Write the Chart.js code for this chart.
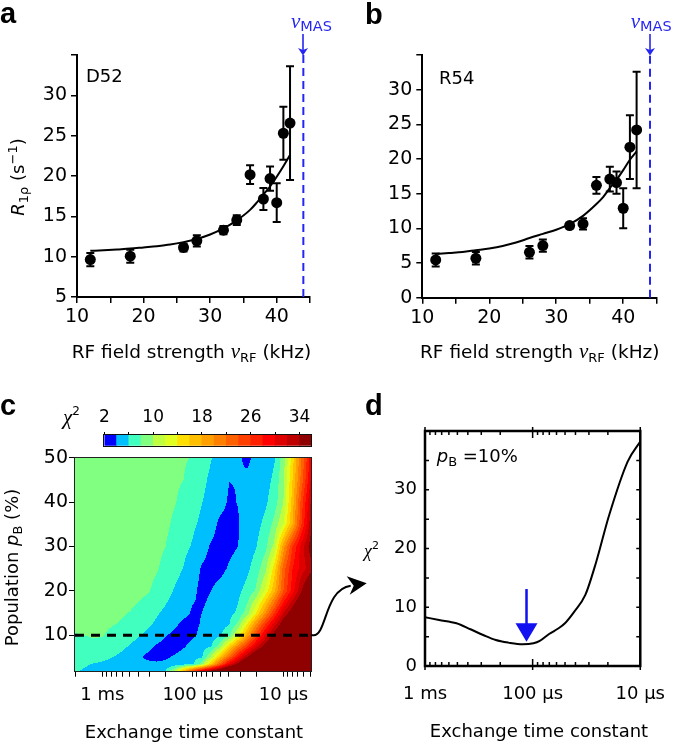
<!DOCTYPE html>
<html><head><meta charset="utf-8">
<script src="https://cdn.jsdelivr.net/npm/chart.js"></script>
<style>
html,body{margin:0;padding:0;background:#fff;}
#wrap{position:relative;width:675px;height:743px;overflow:hidden;background:#fff;}
#wrap canvas{position:absolute;}
#labels{position:absolute;left:0;top:0;pointer-events:none;}
</style></head><body>
<div id="wrap">
<canvas id="ca" width="337" height="372" style="left:0;top:0;width:337px;height:372px"></canvas>
<canvas id="cb" width="335" height="372" style="left:340px;top:0;width:335px;height:372px"></canvas>
<canvas id="cc" width="337" height="363" style="left:0;top:380px;width:337px;height:363px"></canvas>
<canvas id="cbar" width="225" height="55" style="left:95px;top:395px;width:225px;height:55px"></canvas>
<canvas id="cd" width="370" height="363" style="left:305px;top:380px;width:370px;height:363px"></canvas>
<svg id="labels" width="675" height="743" font-family="DejaVu Sans" fill="#000">
  <g font-family="Liberation Sans, Arial" font-weight="bold" font-size="29">
    <text x="0" y="23">a</text><text x="365" y="24">b</text>
    <text x="0" y="415">c</text><text x="365" y="415">d</text>
  </g>
  <text x="86" y="82" font-size="18">D52</text>
  <text x="439" y="84" font-size="18">R54</text>
  <text x="291" y="27.5" fill="#2626F2"><tspan font-family="Liberation Serif" font-style="italic" font-size="21">ν</tspan><tspan font-size="14.5" dy="3">MAS</tspan></text>
  <text x="630.7" y="27.5" fill="#2626F2"><tspan font-family="Liberation Serif" font-style="italic" font-size="21">ν</tspan><tspan font-size="14.5" dy="3">MAS</tspan></text>
  <text x="71.7" y="358" font-size="18.5">RF field strength <tspan font-family="Liberation Serif" font-style="italic" font-size="21">ν</tspan><tspan font-size="13" dy="4">RF</tspan><tspan dy="-4"> (kHz)</tspan></text>
  <text x="420" y="358" font-size="18.5">RF field strength <tspan font-family="Liberation Serif" font-style="italic" font-size="21">ν</tspan><tspan font-size="13" dy="4">RF</tspan><tspan dy="-4"> (kHz)</tspan></text>
  <text transform="translate(23.5,177) rotate(-90)" text-anchor="middle" font-size="18"><tspan font-style="italic">R</tspan><tspan font-size="13" dy="4">1ρ</tspan><tspan dy="-4"> (s</tspan><tspan font-size="13" dy="-7">−1</tspan><tspan dy="7">)</tspan></text>
  <text transform="translate(18.3,567.5) rotate(-90)" text-anchor="middle" font-size="18">Population <tspan font-style="italic">p</tspan><tspan font-size="13" dy="4">B</tspan><tspan dy="-4"> (%)</tspan></text>
  <text x="194" y="738" text-anchor="middle" font-size="18">Exchange time constant</text>
  <text x="539" y="736.5" text-anchor="middle" font-size="18">Exchange time constant</text>
  <text x="63" y="424"><tspan font-family="Liberation Serif" font-style="italic" font-size="21">χ</tspan><tspan font-size="12" dy="-9">2</tspan></text>
  <text x="364" y="557"><tspan font-family="Liberation Serif" font-style="italic" font-size="18">χ</tspan><tspan font-size="11" dy="-8">2</tspan></text>
  <text x="436.7" y="461.7" font-size="18"><tspan font-style="italic">p</tspan><tspan font-size="13" dy="4">B</tspan><tspan dy="-4"> =10%</tspan></text>
</svg>
</div>
<script>
// ---------------- data: panels a & b ----------------
const rfPointsKHz = [12, 18, 26, 28, 32, 34, 36, 38, 39, 40, 41, 42];
const r1rhoD52   = [9.64, 10.06, 11.14, 11.97, 13.29, 14.54, 20.17, 17.15, 19.68, 16.69, 25.3, 26.56];
const errD52     = [0.83, 0.8, 0.5, 0.7, 0.5, 0.6, 1.16, 1.35, 1.5, 2.4, 3.3, 7.05];
const r1rhoR54   = [5.44, 5.68, 6.55, 7.51, 10.4, 10.64, 16.2, 17.1, 16.6, 12.9, 21.7, 24.2];
const errR54     = [0.95, 0.9, 0.9, 0.9, 0.4, 0.8, 1.2, 1.8, 1.6, 2.9, 4.6, 8.4];
const fitKHz     = [12, 14, 16, 18, 20, 22, 24, 26, 28, 30, 32, 34, 36, 37, 38, 39, 40, 41, 42];
const fitD52     = [10.72, 10.8, 10.9, 11.0, 11.15, 11.3, 11.5, 11.8, 12.2, 12.75, 13.5, 14.5, 15.8, 16.7, 17.7, 18.7, 19.9, 21.2, 22.6];
const fitR54     = [6.3, 6.45, 6.6, 6.85, 7.1, 7.45, 7.95, 8.6, 9.2, 9.8, 10.6, 11.8, 13.5, 14.5, 15.8, 17.0, 18.4, 19.9, 21.1];
const masKHz = 44;

// ---------------- data: panel c (chi^2 map) ----------------
const tauGridUs = [2000, 1585, 1259, 1000, 794, 631, 501, 398, 316, 251, 200, 158, 126, 100, 79.4, 63.1, 50.1, 39.8, 31.6, 25.1, 20, 15.8, 12.6, 10, 7.94, 6.31, 5.01];
const pBGrid = [2, 3.5, 5, 7.5, 10, 12.5, 15, 20, 25, 30, 35, 40, 45, 50];
const chi2Map = [
  [6.1,5.9,5.7,5.5,5.4,5.3,5.2,5.1,5.1,5.3,6.0,10,17,24,30,34,38,42,46,50,54,57,60,63,66,69,72],
  [6.3,6.15,5.95,5.8,5.6,5.4,5.1,4.8,4.5,4.4,4.5,4.8,5.2,5.7,9,16,23,30,35,40,44,48,51,54,57,60,63],
  [6.8,6.7,6.5,6.3,6.05,5.6,5.0,4.3,3.6,3.3,3.7,4.3,4.9,5.4,5.8,10.5,17,23,29,34.5,39,43,46,49,52,55,58],
  [7.4,7.5,7.6,7.5,7.2,6.5,5.9,5.2,4.5,3.8,3.3,3.2,3.8,4.6,5.2,5.8,9,15,21,26,31,35.5,39,42,45,48,51],
  [7.8,8.0,8.15,8.1,7.7,7.3,6.8,6.2,5.6,4.9,4.1,3.6,3.4,3.7,4.4,5.0,5.7,7.5,12.5,18.5,25,30.5,35.5,39,42,45,48],
  [8.9,8.7,8.5,8.3,8.1,7.9,7.5,6.9,6.3,5.7,5.0,4.3,3.6,3.7,4.1,4.7,5.3,5.9,8.5,14,20,26,31,36,40,44,48],
  [9.2,9.0,8.8,8.6,8.4,8.2,7.95,7.4,6.8,6.2,5.6,5.0,4.4,3.8,4.0,4.5,5.0,5.5,6.3,9.0,14,20,26,32,36,40,44],
  [9.9,9.85,9.75,9.6,9.4,9.2,8.95,8.6,8.2,7.5,6.7,5.8,5.0,4.3,3.6,4.0,4.6,5.1,5.6,6.6,8.3,12.5,17.5,24,29,34,38],
  [9.85,9.8,9.7,9.55,9.4,9.25,9.05,8.8,8.5,8.15,7.5,6.7,5.9,4.8,3.8,3.3,3.5,4.2,4.9,5.6,7.0,9.4,15,23,28,31,33],
  [9.8,9.75,9.6,9.5,9.4,9.3,9.1,8.9,8.7,8.4,8.0,7.3,6.5,5.8,4.8,3.8,3.4,3.5,4.0,4.9,5.9,7.5,10.5,19,26,31,35],
  [9.8,9.7,9.6,9.5,9.4,9.25,9.1,8.95,8.8,8.6,8.3,7.7,7.0,6.3,5.6,4.7,3.6,3.4,3.9,4.6,5.4,6.5,8.6,12,18,26,33],
  [9.8,9.7,9.6,9.4,9.3,9.2,9.05,8.9,8.75,8.6,8.4,8.1,7.5,6.8,6.05,5.3,4.6,3.8,4.05,4.5,5.0,5.7,7.0,10,17,25,32],
  [9.7,9.6,9.5,9.3,9.2,9.1,9.0,8.9,8.7,8.6,8.4,8.25,8.0,7.3,6.5,5.6,4.9,4.02,4.05,4.3,4.7,5.3,6.4,9.7,16,23,30],
  [9.6,9.5,9.4,9.2,9.1,9.0,8.9,8.8,8.6,8.5,8.4,8.3,8.15,7.9,7.0,6.1,5.2,4.6,4.2,3.7,4.4,5.0,5.8,9.0,15,22,29]
];
const chi2Levels = [2,4,6,8,10,12,14,16,18,20,22,24,26,28,30,32,34,36];
const levelColors = ['#0000FF','#00BFFF','#40FFBF','#80FF80','#BFFF40','#E0FF20','#FFDF00','#FFBF00','#FF9F00','#FF8000','#FF6000','#FF4000','#FF2000','#FF0000','#DF0000','#BF0000','#8F0000'];
const colorbarTicks = [2,6,10,14,18,22,26,30,34];
const colorbarLabels = [2,10,18,26,34];
const selectedPB = 10;
const tauTicksC = [2000,1000,900,800,700,600,500,400,300,200,100,90,80,70,60,50,40,30,20,10,9,8,7,6,5];
const pBTicks = [10,20,30,40,50];
const tauLabelText = {1000:'1 ms', 100:'100 μs', 10:'10 μs'};

// ---------------- data: panel d ----------------
const tauCurveUs = [1000, 740, 510, 378, 288, 220, 168, 124, 98.2, 85.9, 70.3, 57.4, 50.1, 41.0, 32.4, 25.6, 19.6, 13.1, 10];
const chi2Curve  = [8.3, 7.84, 7.27, 6.25, 5.28, 4.43, 3.98, 3.69, 3.86, 4.26, 5.45, 6.42, 7.27, 9.26, 12.1, 17.8, 25.5, 34.8, 38.2];
const tauTicksD = [1000,900,800,700,600,500,400,300,200,100,90,80,70,60,50,40,30,20,10];
const tauMajorD = [1000,100,10];
const chi2TicksD = [0,5,10,15,20,25,30,35,40];
const bestTauUs = 114, arrowChi2Top = 13.1, arrowChi2Base = 7.27, arrowChi2Tip = 4.14;

// ---------------- helpers ----------------
const FONT = "'DejaVu Sans'";
const BLUE = '#2626F2';
Chart.defaults.font.family = FONT;
Chart.defaults.color = '#000';
const pts = (xs, ys) => xs.map((x, i) => ({x, y: ys[i]}));
const base = (padding) => ({
  animation: false, responsive: false, events: [],
  layout: {autoPadding: false, padding},
  plugins: {legend: {display: false}, tooltip: {enabled: false}}
});

const errorBars = {
  id: 'errorBars',
  afterDatasetsDraw(chart, args, o) {
    const {ctx, scales: {x, y}} = chart;
    ctx.save(); ctx.strokeStyle = '#000'; ctx.lineWidth = 2;
    o.xs.forEach((xv, i) => {
      const px = x.getPixelForValue(xv);
      const y1 = y.getPixelForValue(o.ys[i] - o.errs[i]);
      const y2 = y.getPixelForValue(o.ys[i] + o.errs[i]);
      ctx.beginPath();
      ctx.moveTo(px, y1); ctx.lineTo(px, y2);
      ctx.moveTo(px - 4, y1); ctx.lineTo(px + 4, y1);
      ctx.moveTo(px - 4, y2); ctx.lineTo(px + 4, y2);
      ctx.stroke();
    });
    ctx.restore();
  }
};
const masArrow = {
  id: 'masArrow',
  afterDraw(chart) {
    const {ctx, chartArea: a, scales: {x}} = chart;
    const px = Math.round(x.getPixelForValue(masKHz));
    ctx.save(); ctx.strokeStyle = BLUE; ctx.fillStyle = BLUE; ctx.lineWidth = 1.6;
    ctx.beginPath(); ctx.moveTo(px, a.top - 21); ctx.lineTo(px, a.top - 5); ctx.stroke();
    ctx.beginPath(); ctx.moveTo(px - 5, a.top - 7); ctx.lineTo(px, a.top + 0.5); ctx.lineTo(px + 5, a.top - 7); ctx.lineTo(px, a.top - 5); ctx.closePath(); ctx.fill();
    ctx.restore();
  }
};

function relaxChart(id, ys, errs, fit, yMin, yMax, yWidth, pad) {
  return new Chart(document.getElementById(id), {
    type: 'scatter',
    data: {datasets: [
      {type: 'line', data: pts(fitKHz, fit), borderColor: '#000', borderWidth: 2, pointRadius: 0, cubicInterpolationMode: 'monotone', fill: false},
      {data: pts(rfPointsKHz, ys), pointRadius: 5.5, pointBackgroundColor: '#000', pointBorderWidth: 0, showLine: false},
      {type: 'line', data: [{x: masKHz, y: yMin}, {x: masKHz, y: yMax}], borderColor: BLUE, borderWidth: 2, borderDash: [8, 5], pointRadius: 0, fill: false}
    ]},
    options: Object.assign(base(pad), {
      plugins: {legend: {display: false}, tooltip: {enabled: false}, errorBars: {xs: rfPointsKHz, ys, errs}},
      scales: {
        x: {type: 'linear', min: 10, max: 45, afterFit(s) { s.height = 40; },
          ticks: {stepSize: 5, autoSkip: false, maxRotation: 0, padding: 3, font: {size: 19}, color: '#000',
            callback: v => (v % 10 === 0 && v < 45) ? String(v) : ''},
          grid: {drawOnChartArea: false, tickLength: 6, color: '#000', lineWidth: 1.5},
          border: {display: true, color: '#000', width: 2}},
        y: {type: 'linear', min: yMin, max: yMax, afterFit(s) { s.width = yWidth; },
          ticks: {stepSize: 5, autoSkip: false, padding: 4, font: {size: 19}, color: '#000',
            callback: v => v === yMax ? '' : String(v)},
          grid: {drawOnChartArea: false, tickLength: 6, color: '#000', lineWidth: 1.5},
          border: {display: true, color: '#000', width: 2}}
      }
    }),
    plugins: [errorBars, masArrow]
  });
}
relaxChart('ca', r1rhoD52, errD52, fitD52, 5, 35, 77, {left: 0, right: 27, top: 55, bottom: 35});
relaxChart('cb', r1rhoR54, errR54, fitR54, 0, 35, 82.3, {left: 0, right: 18.3, top: 55, bottom: 34.3});

// ---------------- panel c ----------------
const contourFill = {
  id: 'contourFill',
  beforeDatasetsDraw(chart) {
    const {ctx, chartArea: a, scales: {x, y}} = chart;
    const uG = tauGridUs.map(t => Math.log10(1000 / t));
    const locate = (arr, v) => {
      if (v <= arr[0]) return [0, 0];
      if (v >= arr[arr.length - 1]) return [arr.length - 2, 1];
      let i = 0; while (i < arr.length - 2 && v > arr[i + 1]) i++;
      return [i, (v - arr[i]) / (arr[i + 1] - arr[i])];
    };
    const colorOf = v => {
      let k = 0;
      while (k < levelColors.length - 1 && v >= chi2Levels[k + 1]) k++;
      return levelColors[k];
    };
    const L = Math.round(a.left), R = Math.round(a.right), T = Math.round(a.top), B = Math.round(a.bottom);
    const cols = [];
    for (let px = L; px < R; px++) cols.push(locate(uG, Math.log10(1000 / x.getValueForPixel(px + 0.5))));
    ctx.save();
    for (let py = T; py < B; py++) {
      const [j, fy] = locate(pBGrid, y.getValueForPixel(py + 0.5));
      let runStart = L, runColor = null;
      for (let px = L; px <= R; px++) {
        let col = null;
        if (px < R) {
          const [i, fx] = cols[px - L];
          const v = (chi2Map[j][i] * (1 - fx) + chi2Map[j][i + 1] * fx) * (1 - fy) +
                    (chi2Map[j + 1][i] * (1 - fx) + chi2Map[j + 1][i + 1] * fx) * fy;
          col = colorOf(v);
        }
        if (col !== runColor) {
          if (runColor) { ctx.fillStyle = runColor; ctx.fillRect(runStart, py, px - runStart, 1); }
          runColor = col; runStart = px;
        }
      }
    }
    ctx.restore();
  },
  afterDraw(chart) {
    const {ctx, chartArea: a} = chart;
    ctx.save(); ctx.strokeStyle = '#222'; ctx.lineWidth = 1;
    ctx.strokeRect(Math.round(a.left) - 0.5, Math.round(a.top) - 0.5, Math.round(a.right - a.left) + 1, Math.round(a.bottom - a.top) + 1);
    ctx.restore();
  }
};
const chartC = new Chart(document.getElementById('cc'), {
  type: 'line',
  data: {datasets: [{data: [{x: 2000, y: selectedPB}, {x: 5, y: selectedPB}], borderColor: '#000', borderWidth: 3, borderDash: [9, 7], pointRadius: 0, fill: false}]},
  options: Object.assign(base({left: 0, right: 26.3, top: 77.7, bottom: 32.3}), {
    scales: {
      x: {type: 'logarithmic', reverse: true, min: 5, max: 2000,
        afterBuildTicks(s) { s.ticks = tauTicksC.map(v => ({value: v})); },
        afterFit(s) { s.height = 40; },
        ticks: {autoSkip: false, maxRotation: 0, padding: 8, font: {size: 18}, color: '#000', callback: v => tauLabelText[v] || ''},
        grid: {drawOnChartArea: false, tickLength: 6, color: '#000', lineWidth: 1},
        border: {display: false}},
      y: {type: 'linear', min: 2, max: 50,
        afterBuildTicks(s) { s.ticks = pBTicks.map(v => ({value: v})); },
        afterFit(s) { s.width = 75; },
        ticks: {autoSkip: false, padding: 1, font: {size: 19}, color: '#000'},
        grid: {drawOnChartArea: false, tickLength: 6, color: '#000', lineWidth: 1},
        border: {display: false}}
    }
  }),
  plugins: [contourFill]
});

// colour bar
const cbarFrame = {
  id: 'cbarFrame',
  afterDraw(chart) {
    const {ctx, chartArea: a} = chart;
    ctx.save(); ctx.strokeStyle = '#111'; ctx.lineWidth = 1;
    ctx.strokeRect(Math.round(a.left) - 0.5, Math.round(a.top) - 0.5, Math.round(a.right - a.left) + 1, Math.round(a.bottom - a.top) + 1);
    ctx.restore();
  }
};
new Chart(document.getElementById('cbar'), {
  type: 'bar',
  data: {labels: ['χ²'], datasets: [{
    data: levelColors.map((c, i) => ({x: [chi2Levels[i], chi2Levels[i + 1]], y: 'χ²'})),
    backgroundColor: levelColors, borderWidth: 0, barPercentage: 1, categoryPercentage: 1}]},
  options: Object.assign(base({left: 6, right: 8.3, top: 10, bottom: 4.3}), {
    indexAxis: 'y',
    scales: {
      x: {type: 'linear', position: 'top', min: 2, max: 36,
        afterBuildTicks(s) { s.ticks = colorbarTicks.map(v => ({value: v})); },
        afterFit(s) { s.height = 30; },
        ticks: {autoSkip: false, maxRotation: 0, padding: 4, font: {size: 17}, color: '#000',
          callback: v => colorbarLabels.includes(v) ? String(v) : ''},
        grid: {drawOnChartArea: false, tickLength: 3, color: '#000', lineWidth: 1},
        border: {display: false}},
      y: {display: false}
    }
  }),
  plugins: [cbarFrame]
});

// ---------------- panel d ----------------
const panelD = {
  id: 'panelD',
  afterDraw(chart) {
    const {ctx, chartArea: a, scales: {x, y}} = chart;
    ctx.save();
    ctx.strokeStyle = '#000'; ctx.lineWidth = 1.5;
    tauTicksD.forEach(v => {
      const px = x.getPixelForValue(v);
      const major = tauMajorD.includes(v);
      ctx.beginPath();
      ctx.moveTo(px, a.bottom + (major ? 4 : 0)); ctx.lineTo(px, a.bottom - (major ? 7 : 4));
      ctx.moveTo(px, a.top - (major ? 4 : 0)); ctx.lineTo(px, a.top + (major ? 7 : 4));
      ctx.stroke();
    });
    chi2TicksD.forEach(v => {
      const py = y.getPixelForValue(v);
      ctx.beginPath();
      ctx.moveTo(a.left, py); ctx.lineTo(a.left + 4, py);
      ctx.moveTo(a.right, py); ctx.lineTo(a.right - 4, py);
      ctx.stroke();
    });
    ctx.lineWidth = 2.5;
    ctx.strokeRect(a.left, a.top, a.right - a.left, a.bottom - a.top);
    // blue arrow at best exchange time
    const bx = x.getPixelForValue(bestTauUs);
    const yTop = y.getPixelForValue(arrowChi2Top), yBase = y.getPixelForValue(arrowChi2Base), yTip = y.getPixelForValue(arrowChi2Tip);
    ctx.strokeStyle = '#1010F0'; ctx.fillStyle = '#1010F0'; ctx.lineWidth = 2.5;
    ctx.beginPath(); ctx.moveTo(bx, yTop); ctx.lineTo(bx, yBase + 1); ctx.stroke();
    ctx.beginPath(); ctx.moveTo(bx - 11, yBase); ctx.lineTo(bx + 11, yBase); ctx.lineTo(bx, yTip); ctx.closePath(); ctx.fill();
    // connector from panel c's dashed line
    const sx = chartC.chartArea.right - 305;
    const sy = chartC.scales.y.getPixelForValue(selectedPB);
    ctx.strokeStyle = '#000'; ctx.fillStyle = '#000'; ctx.lineWidth = 2;
    ctx.beginPath(); ctx.moveTo(sx, sy); ctx.lineTo(sx + 3, sy);
    ctx.bezierCurveTo(sx + 16, sy, sx + 14, sy - 46, sx + 40, sy - 49.5); ctx.stroke();
    ctx.beginPath(); ctx.moveTo(sx + 56, sy - 52); ctx.lineTo(sx + 36, sy - 59); ctx.lineTo(sx + 43, sy - 49.5); ctx.lineTo(sx + 39, sy - 40.5); ctx.closePath(); ctx.fill();
    ctx.restore();
  }
};
new Chart(document.getElementById('cd'), {
  type: 'line',
  data: {datasets: [{data: pts(tauCurveUs, chi2Curve), borderColor: '#000', borderWidth: 2, pointRadius: 0, cubicInterpolationMode: 'monotone', fill: false}]},
  options: Object.assign(base({left: 0, right: 21.7, top: 51, bottom: 37}), {
    scales: {
      x: {type: 'logarithmic', reverse: true, min: 10, max: 1000,
        afterBuildTicks(s) { s.ticks = tauMajorD.map(v => ({value: v})); },
        afterFit(s) { s.height = 40; },
        ticks: {autoSkip: false, maxRotation: 0, padding: 10, font: {size: 18}, color: '#000', callback: v => tauLabelText[v] || ''},
        grid: {display: false}, border: {display: false}},
      y: {type: 'linear', min: 0, max: 40,
        afterFit(s) { s.width = 120; },
        ticks: {stepSize: 10, autoSkip: false, padding: 0, font: {size: 18}, color: '#000', callback: v => v === 40 ? '' : String(v)},
        grid: {display: false}, border: {display: false}}
    }
  }),
  plugins: [panelD]
});
</script>
</body></html>
